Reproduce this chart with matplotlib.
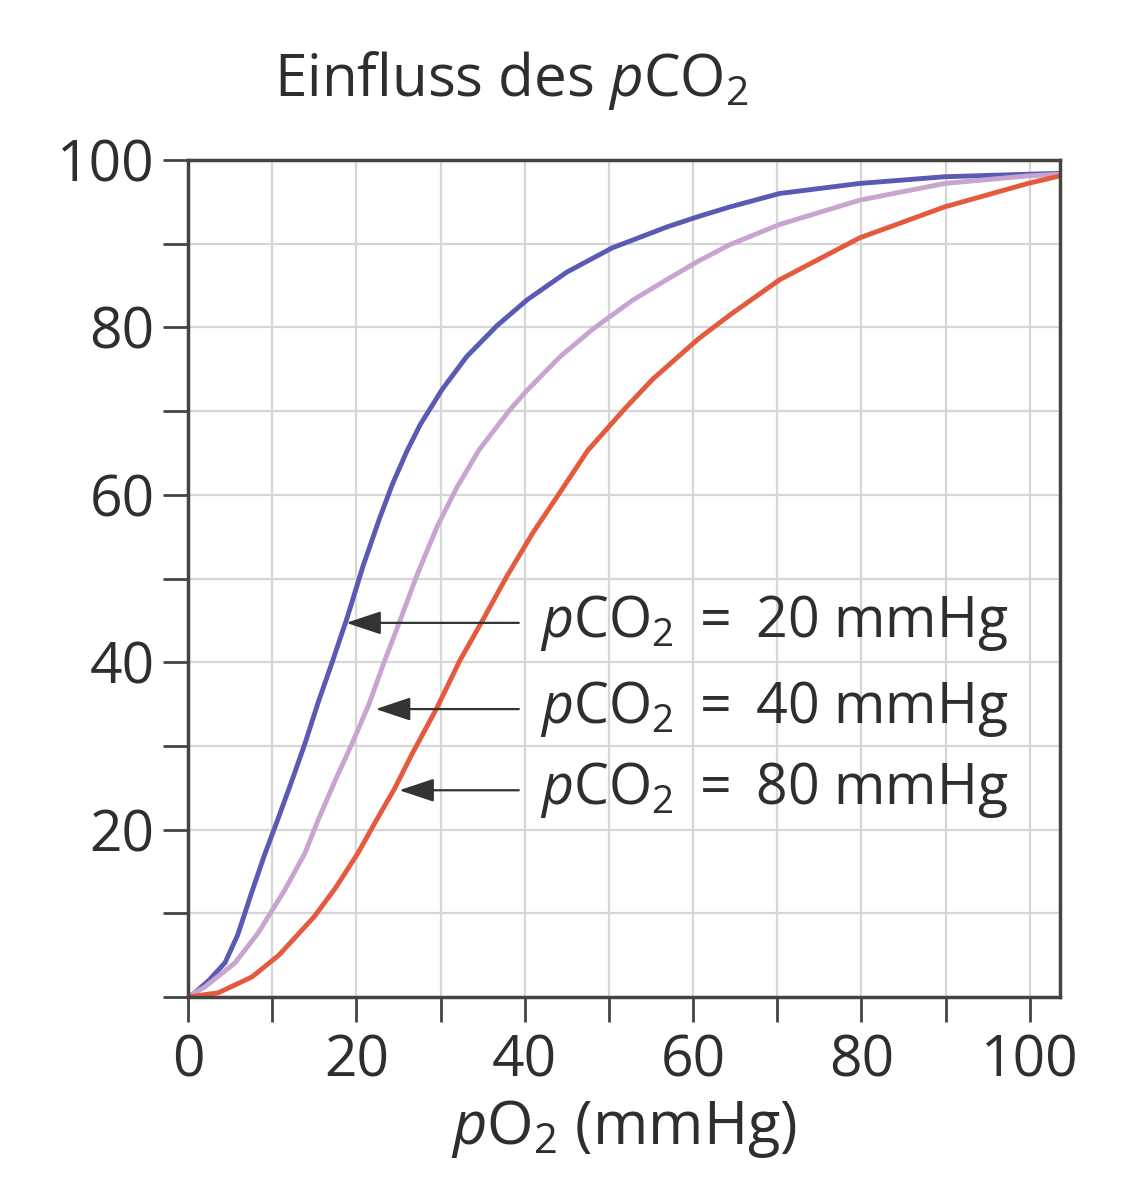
import matplotlib
matplotlib.use("Agg")
import matplotlib.pyplot as plt
import numpy as np

plt.rcParams['font.family'] = ['Open Sans', 'DejaVu Sans']
plt.rcParams['mathtext.fontset'] = 'custom'
plt.rcParams['mathtext.rm'] = 'Open Sans'
plt.rcParams['mathtext.it'] = 'Open Sans:italic'

# pCO2 = 20 mmHg
x20 = [0, 0.8, 2.5, 4.4, 5.9, 7.6, 9.1, 10.7, 12.4, 13.9, 15.5, 17.2, 18.9, 20.8, 22.8, 24.3,
       26.0, 27.6, 30.2, 33.1, 36.7, 40.3, 45.0, 50.4, 56.9, 60.8, 64.4, 70.3, 79.8, 89.9, 99.8, 103.6]
y20 = [0, 0.5, 2.0, 4.1, 7.4, 12.6, 17.0, 21.3, 26.0, 30.3, 35.3, 40.2, 45.3, 51.5, 57.3, 61.3,
       65.2, 68.4, 72.6, 76.5, 80.2, 83.3, 86.6, 89.5, 92.0, 93.3, 94.4, 96.0, 97.2, 98.0, 98.3, 98.4]
# pCO2 = 40 mmHg
x40 = [0, 2.0, 5.6, 8.3, 11.5, 13.9, 15.4, 17.5, 19.5, 21.5, 23.3, 25.2, 27.2, 29.6, 31.9, 34.6,
       38.2, 40.3, 44.2, 48.1, 52.9, 57.2, 60.6, 64.4, 70.3, 79.8, 89.9, 99.8, 103.6]
y40 = [0, 1.2, 4.1, 7.6, 12.8, 17.2, 21.0, 25.9, 30.3, 35.0, 40.0, 45.0, 50.4, 56.2, 60.8, 65.4,
       70.1, 72.5, 76.5, 79.8, 83.3, 85.9, 87.9, 89.9, 92.3, 95.2, 97.2, 98.1, 98.3]
# pCO2 = 80 mmHg
x80 = [0, 3.6, 7.6, 10.8, 15.0, 17.5, 20.2, 22.2, 24.6, 26.6, 29.5, 32.3, 35.0, 37.9, 41.0, 44.0,
       47.5, 52.0, 55.2, 60.6, 64.4, 70.3, 79.8, 89.9, 99.8, 103.6]
y80 = [0, 0.5, 2.4, 5.0, 9.6, 13.0, 17.2, 20.8, 25.0, 29.0, 34.4, 40.2, 45.0, 50.3, 55.5, 60.0,
       65.3, 70.4, 73.8, 78.6, 81.5, 85.7, 90.7, 94.4, 97.2, 98.1]

labels = ["20", "40", "80"]
arrow_tips = [(18.8, 44.7), (22.3, 34.4), (25.1, 24.7)]
colors = ["#5a5ab5", "#c8a4d0", "#e45a3f"]

xticks_major = [0, 20, 40, 60, 80, 100]
yticks_major = [20, 40, 60, 80, 100]

fig = plt.figure(figsize=(11.3, 12), dpi=100)
ax = fig.add_axes([188/1130, 1-997/1200, (1060-188)/1130, (997-160)/1200])

ax.set_xlim(0, 103.6)
ax.set_ylim(0, 100)

ax.set_xticks(np.arange(0, 101, 10), minor=True)
ax.set_yticks(np.arange(0, 101, 10), minor=True)
ax.set_xticks(xticks_major)
ax.set_yticks(yticks_major)
ax.set_xticklabels([str(v) for v in xticks_major])
ax.set_yticklabels([str(v) for v in yticks_major])
ax.grid(True, which='both', color='#d6d6d6', lw=1.6, zorder=0)
ax.set_axisbelow(True)

for xs, ys, c in zip([x20, x40, x80], [y20, y40, y80], colors):
    ax.plot(xs, ys, color=c, lw=3.5, solid_capstyle='round', solid_joinstyle='round',
            zorder=3)

for lab, (tx, ty) in zip(labels, arrow_tips):
    ax.annotate("", xy=(tx, ty), xytext=(39.3, ty),
                arrowprops=dict(arrowstyle='-|>,head_length=0.9,head_width=0.3', lw=1.6,
                                color='#333333', mutation_scale=24, shrinkA=0, shrinkB=0),
                zorder=5)
    ax.text(41.8, ty, r"$\mathit{p}$CO$_2$ $=$ " + lab + " mmHg", fontsize=40,
            color='#2e2e2e', ha='left', va='center', zorder=6)

for s in ax.spines.values():
    s.set_color('#444444')
    s.set_linewidth(2.5)
    s.set_zorder(4)

ax.tick_params(which='both', direction='out', length=18, width=2, color='#444444',
               labelsize=41, labelcolor='#2e2e2e', pad=6)
ax.tick_params(axis='x', which='both', pad=8)

ax.set_xlabel(r"$\mathit{p}$O$_2$ (mmHg)", fontsize=43, color='#2e2e2e', labelpad=6)

fig.text(274/1130, 1-96/1200, r"Einfluss des $\mathit{p}$CO$_2$", fontsize=42,
         color='#2e2e2e', ha='left', va='baseline')

fig.savefig("out.png", dpi=100, facecolor='white')
